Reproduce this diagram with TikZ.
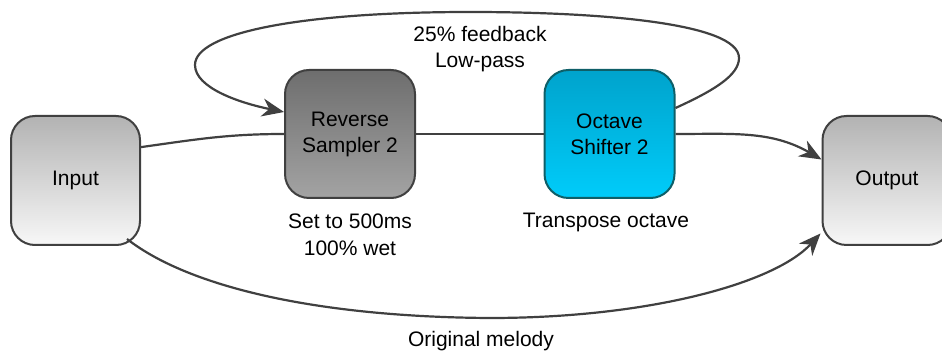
\documentclass[tikz,border=0pt]{standalone}
\usepackage{fontspec}
\setmainfont{Liberation Sans}
\usetikzlibrary{arrows.meta,calc}
\definecolor{edgec}{HTML}{404040}
\definecolor{tealb}{HTML}{0E5F68}
\begin{document}
\begin{tikzpicture}[
  box/.style={draw=edgec, line width=2pt, rounded corners=24pt, minimum width=129pt, minimum height=129pt, inner sep=0pt, align=center, font=\fontsize{21}{26}\selectfont},
  graybox/.style={box, top color=black!30, bottom color=black!3},
  darkbox/.style={box, top color=black!57, bottom color=black!36, minimum width=130pt, minimum height=128pt},
  bluebox/.style={box, draw=tealb, top color={rgb,255:red,0;green,163;blue,204}, bottom color={rgb,255:red,0;green,204;blue,250}, minimum width=130pt, minimum height=128pt},
  conn/.style={draw=edgec, line width=2.2pt},
  arr/.style={conn, -{Stealth[length=22pt,width=18pt,inset=7pt]}},
  lab/.style={align=center, font=\fontsize{21}{26.5}\selectfont, inner sep=0pt}
]
\clip (0,0) rectangle (942pt,353pt);
\fill[white] (0,0) rectangle (942pt,353pt);
\begin{scope}[x=1pt,y=1pt]
\node[graybox] (inp) at (75.5,172.5) {Input};
\node[darkbox] (rev) at (350,219) {Reverse\\Sampler 2};
\node[bluebox] (oct) at (609.5,219) {Octave\\Shifter 2};
\node[graybox] (outp) at (887,172.5) {Output};

\coordinate (fbstart) at ([yshift=26pt]oct.east);
\coordinate (fbend) at ([yshift=22pt]rev.west);
\coordinate (o1end) at ([yshift=21pt]outp.west);
\coordinate (o2end) at ([xshift=-1pt,yshift=-53pt]outp.west);
\coordinate (o2start) at (127,114);

\draw[conn] (inp.27) to[out=8,in=180] (rev.west);
\draw[conn] (rev.east) -- (oct.west);
\draw[arr] (oct.east) to[out=0,in=150] (o1end);
\draw[arr] (fbstart) .. controls (715,263) and (739,278) .. (739,295)
  .. controls (739,330) and (600,341) .. (470,341)
  .. controls (300,341) and (195,320) .. (195,288)
  .. controls (195,265) and (240,250) .. (fbend);
\draw[arr] (o2start) .. controls (190,65) and (320,36) .. (490,35)
  .. controls (650,35) and (775,70) .. (o2end);

\node[lab] at (480,304) {25\% feedback\\Low-pass};
\node[lab] at (350,118) {Set to 500ms\\100\% wet};
\node[lab] at (606,131) {Transpose octave};
\node[lab] at (481,11.5) {Original melody};
\end{scope}
\end{tikzpicture}
\end{document}
